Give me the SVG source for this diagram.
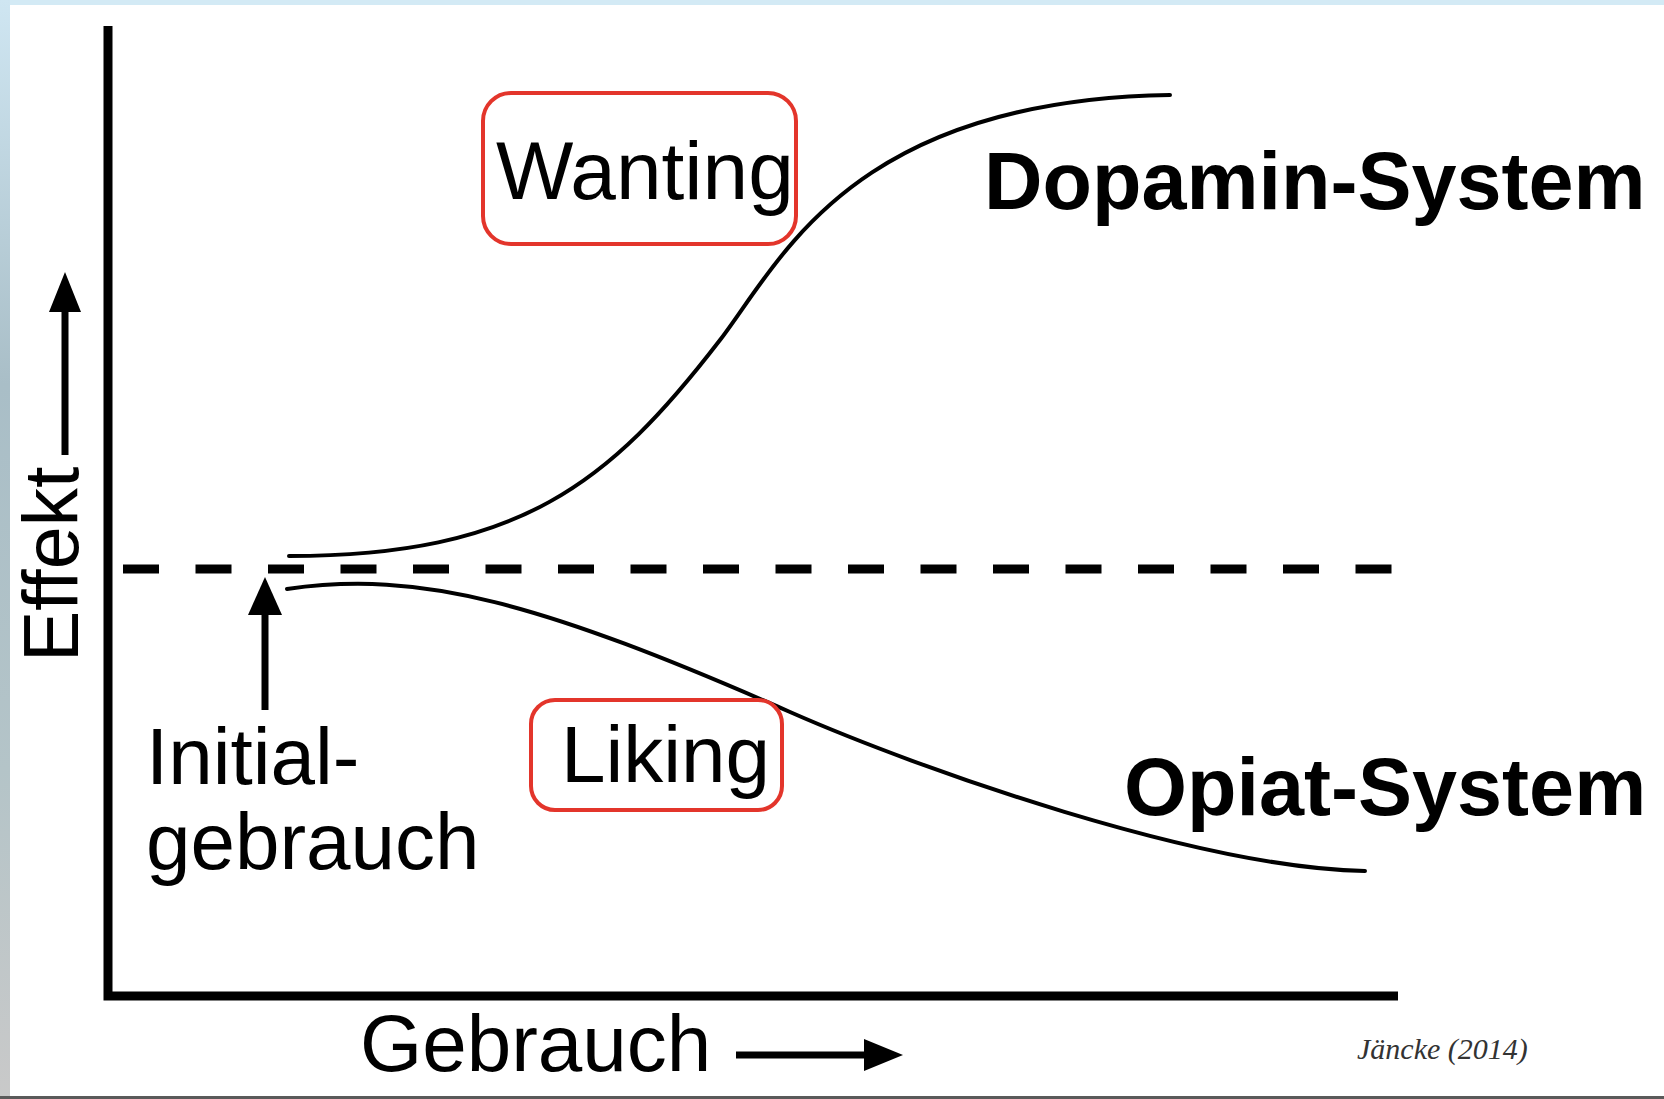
<svg xmlns="http://www.w3.org/2000/svg" width="1664" height="1099" viewBox="0 0 1664 1099">
  <style>
    .sans { font-family: "Liberation Sans", Arial, Helvetica, sans-serif; fill: #000; }
    .big { font-size: 80px; }
    .bold { font-weight: bold; }
    .box { fill: #fff; stroke: #e3352b; stroke-width: 4; }
    .curve { fill: none; stroke: #000; stroke-width: 4; stroke-linecap: round; }
    .shaft { stroke: #000; stroke-width: 7; fill: none; }
    .head { fill: #000; }
  </style>
  <defs>
    <linearGradient id="leftEdge" x1="0" y1="0" x2="0" y2="1">
      <stop offset="0" stop-color="#cfe6f2"/>
      <stop offset="0.35" stop-color="#a9bec7"/>
      <stop offset="0.7" stop-color="#b4c4c8"/>
      <stop offset="1" stop-color="#c9c9c9"/>
    </linearGradient>
  </defs>

  <!-- frame -->
  <rect x="0" y="0" width="1664" height="1099" fill="#fff"/>
  <rect x="0" y="0" width="1664" height="5" fill="#d3eaf5"/>
  <rect x="0" y="0" width="10" height="1099" fill="url(#leftEdge)"/>
  <rect x="0" y="1096" width="1664" height="3" fill="#5a5a5a"/>

  <!-- axes -->
  <g id="axes">
    <polyline points="108,26 108,996 1398,996" fill="none" stroke="#000" stroke-width="9" stroke-linejoin="miter"/>
  </g>

  <!-- baseline (dashed) -->
  <g id="baseline">
    <line x1="123" y1="569" x2="1393" y2="569" stroke="#000" stroke-width="9" stroke-dasharray="36 36.5"/>
  </g>

  <!-- curves -->
  <g id="dopamin-curve">
    <path class="curve" d="M289,556 C520,556 610,483 720,340 C780,262 850,100 1170,95"/>
  </g>
  <g id="opiat-curve">
    <path class="curve" d="M287,589 C420,570 540,602 790,712 C920,769.2 1200,868 1365,871"/>
  </g>

  <!-- label boxes -->
  <g id="wanting">
    <rect class="box" x="483" y="93" width="313" height="151" rx="28" ry="28"/>
    <text class="sans" style="font-size:82px" x="496" y="199">Wanting</text>
  </g>
  <g id="liking">
    <rect class="box" x="531" y="700" width="251" height="110" rx="24" ry="24"/>
    <text class="sans big" x="561" y="782">Liking</text>
  </g>

  <!-- text labels -->
  <g id="dopamin-label">
    <text class="sans bold" style="font-size:81px" x="984" y="209">Dopamin-System</text>
  </g>
  <g id="opiat-label">
    <text class="sans bold" style="font-size:81px" x="1124" y="815">Opiat-System</text>
  </g>
  <g id="initial-label">
    <text class="sans big" x="146" y="784">Initial-</text>
    <text class="sans big" x="146" y="869">gebrauch</text>
  </g>
  <g id="x-label">
    <text class="sans" style="font-size:80px" x="360" y="1071">Gebrauch</text>
  </g>
  <g id="y-label">
    <text class="sans" style="font-size:77px" transform="translate(78,662) rotate(-90)">Effekt</text>
  </g>
  <g id="credit">
    <text x="1357" y="1059" style="font-family:'Liberation Serif','Times New Roman',serif; font-style:italic; font-size:30px; fill:#333">Jäncke (2014)</text>
  </g>

  <!-- connectors / arrows -->
  <g id="connectors">
    <g id="arrow-effekt">
      <line class="shaft" x1="65" y1="455" x2="65" y2="305"/>
      <polygon class="head" points="65,272 49,312 81,312"/>
    </g>
    <g id="arrow-initial">
      <line class="shaft" x1="265" y1="710" x2="265" y2="608"/>
      <polygon class="head" points="265,577 248,615 282,615"/>
    </g>
    <g id="arrow-gebrauch">
      <line class="shaft" x1="736" y1="1055" x2="870" y2="1055"/>
      <polygon class="head" points="903,1055 864,1039 864,1071"/>
    </g>
  </g>
</svg>
